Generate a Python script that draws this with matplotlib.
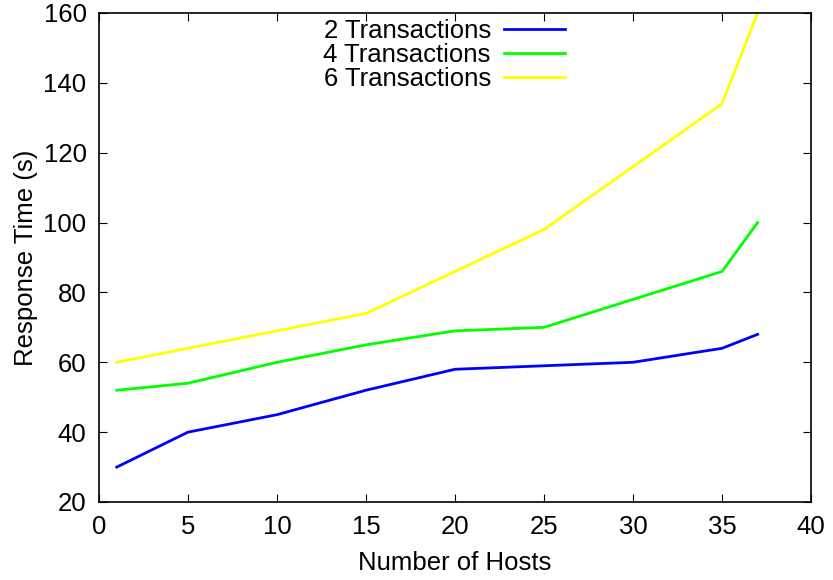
import matplotlib.pyplot as plt

hosts = [1, 5, 10, 15, 20, 25, 30, 35, 37]
tx2 = [30, 40, 45, 52, 58, 59, 60, 64, 68]
tx4 = [52, 54, 60, 65, 69, 70, 78, 86, 100]
tx6 = [60, 64, 69, 74, 86, 98, 116, 134, 160]
labels = ['2 Transactions', '4 Transactions', '6 Transactions']
colors = ['#0000ff', '#00ff00', '#ffff00']

plt.rcParams['font.family'] = ['Liberation Sans', 'DejaVu Sans']
fig = plt.figure(figsize=(8.33, 5.8), dpi=100)
ax = fig.add_axes([99 / 833, 1 - 502 / 580, (811 - 99) / 833, (502 - 13) / 580])

for ys, lab, c in zip([tx2, tx4, tx6], labels, colors):
    ax.plot(hosts, ys, color=c, lw=2, label=lab)

ax.set_xlim(0, 40)
ax.set_ylim(20, 160)
ax.set_xticks(range(0, 41, 5))
ax.set_yticks(range(20, 161, 20))
ax.tick_params(direction='in', top=True, right=True, length=6, labelsize=18.5, pad=9)
for s in ax.spines.values():
    s.set_linewidth(1.2)

ax.set_xlabel('Number of Hosts', fontsize=18.5, labelpad=9)
ax.set_ylabel('Response Time (s)', fontsize=18.5, labelpad=4)

ax.legend(loc='upper center', bbox_to_anchor=(0.485, 1.035), frameon=False, markerfirst=False,
          fontsize=18.5, handlelength=2.4, handletextpad=0.5, labelspacing=0.0)

fig.savefig('out.png', dpi=100)
